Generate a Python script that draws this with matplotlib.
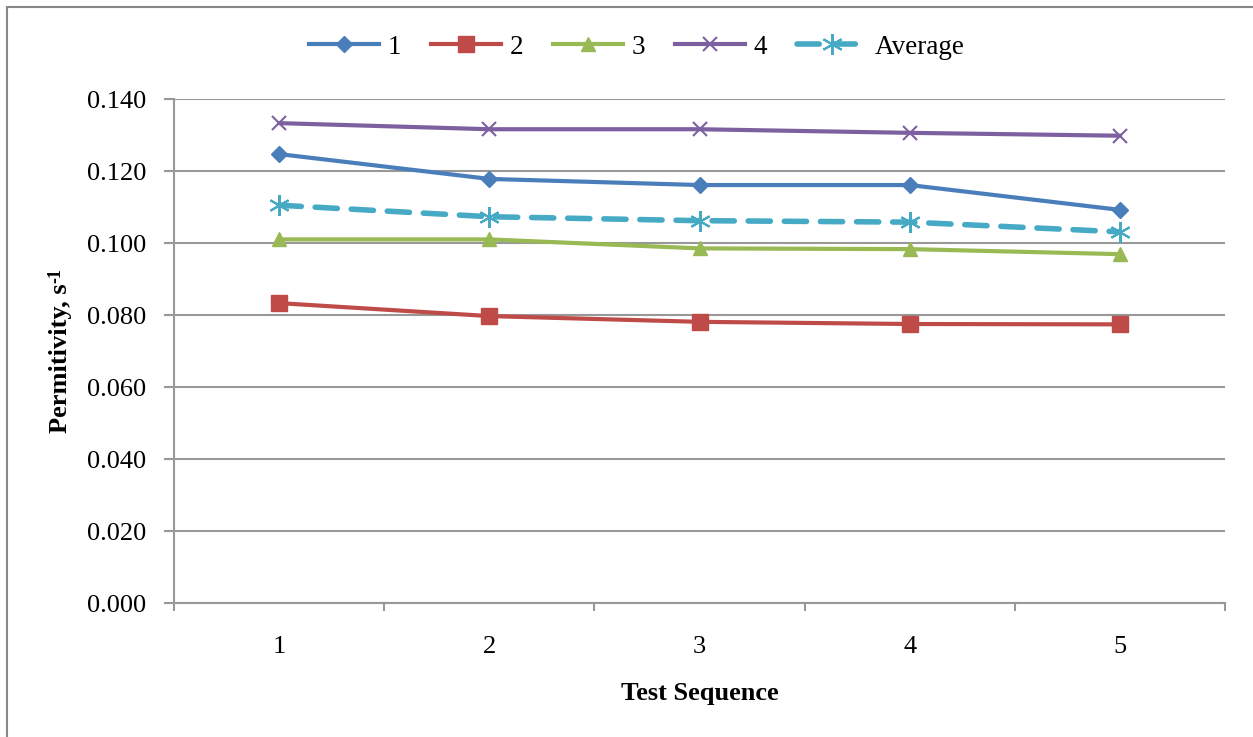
import numpy as np
import matplotlib.pyplot as plt
from matplotlib.patches import Rectangle

plt.rcParams['font.family'] = ['Liberation Serif', 'DejaVu Serif']

sequence = [1, 2, 3, 4, 5]
series_names = ["1", "2", "3", "4", "Average"]
s1 = [0.1247, 0.1178, 0.1161, 0.1161, 0.1092]
s2 = [0.0833, 0.0797, 0.0781, 0.0775, 0.0774]
s3 = [0.1010, 0.1010, 0.0985, 0.0983, 0.0969]
s4 = [0.1333, 0.1316, 0.1316, 0.1306, 0.1298]
avg = [0.1105, 0.1073, 0.1062, 0.1058, 0.1031]
y_ticks = [0.0, 0.02, 0.04, 0.06, 0.08, 0.10, 0.12, 0.14]

W, H = 1253, 737
fig = plt.figure(figsize=(W / 100, H / 100), dpi=100)
ax = fig.add_axes([174 / W, 1 - 603 / H, (1225 - 174) / W, (603 - 99) / H])

# chart border
fig.patches.append(Rectangle((7 / W, -0.01), 1.02, 1 - 7 / H + 0.01, transform=fig.transFigure,
                             fill=False, edgecolor='#888888', linewidth=1.5))

grid_c = '#989898'
ax.plot(sequence, s1, color='#4a7ebb', lw=3, marker='D', ms=8, label=series_names[0], zorder=3)
ax.plot(sequence, s2, color='#be4b48', lw=3, marker='s', ms=11, label=series_names[1], zorder=3)
ax.plot(sequence, s3, color='#98b954', lw=3, marker='^', ms=10, label=series_names[2], zorder=3)
ax.plot(sequence, s4, color='#7d60a0', lw=3, marker='x', ms=10, mew=1.5, label=series_names[3], zorder=3)
ax.plot(sequence, avg, color='#46aac5', lw=4, ls=(0, (4, 2.5)), dash_capstyle='round',
        marker=(6, 2, 0), ms=15, mew=1.5, label=series_names[4], zorder=3)

ax.set_xlim(0.5, 5.5)
ax.set_ylim(0, 0.14)
ax.set_yticks(y_ticks)
ax.set_yticklabels([f"{v:.3f}" for v in y_ticks])
ax.set_xticks(sequence)
ax.set_xticks(np.arange(0.5, 5.6, 1.0), minor=True)
ax.tick_params(axis='x', which='major', length=0, pad=24, labelsize=19)
ax.tick_params(axis='x', which='minor', length=6, color=grid_c, width=1.5, direction='out')
ax.tick_params(axis='y', length=7, color=grid_c, width=1.5, labelsize=19, pad=13)
ax.yaxis.grid(True, color=grid_c, lw=1.5)
ax.set_axisbelow(True)
for side in ['top', 'right']:
    ax.spines[side].set_visible(False)
for side in ['left', 'bottom']:
    ax.spines[side].set_color(grid_c)
    ax.spines[side].set_linewidth(1.5)

ax.set_xlabel("Test Sequence", fontsize=19, fontweight='bold', labelpad=17)
ax.set_ylabel("Permitivity, s", fontsize=19, fontweight='bold', labelpad=11)
ax.yaxis.label.set_y(0.485)

fig.legend(loc='center', bbox_to_anchor=(637 / W, 1 - 47 / H), ncol=5, frameon=False,
           fontsize=19.5, handlelength=2.6, columnspacing=1.1, handletextpad=0.3)

# superscript -1 on the y label
fig.canvas.draw()
bb = ax.yaxis.label.get_window_extent()
fig.text(bb.x0 - 1, bb.y1 + 1, "-1", fontsize=13, fontweight='bold', rotation=90,
         ha='left', va='bottom', transform=None)

fig.savefig("out.png", dpi=100)
